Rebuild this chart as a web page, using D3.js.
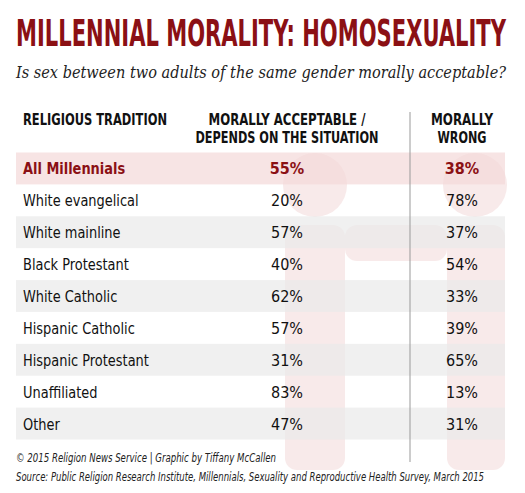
<!DOCTYPE html>
<html><head><meta charset="utf-8">
<script src="https://cdn.jsdelivr.net/npm/d3@7"></script>
<style>body{margin:0;background:#fff}</style>
</head><body><svg id="chart"></svg>
<script>
const traditions = ['All Millennials', 'White evangelical', 'White mainline', 'Black Protestant', 'White Catholic', 'Hispanic Catholic', 'Hispanic Protestant', 'Unaffiliated', 'Other'];
const acceptable = [55, 20, 57, 40, 62, 57, 31, 83, 47];
const wrong = [38, 78, 37, 54, 33, 39, 65, 13, 31];

const W = 525, H = 493;
const narrow = '"Liberation Sans Narrow", "DejaVu Sans Condensed", sans-serif';
const red = '#8b1014';
const svg = d3.select('#chart').attr('width', W).attr('height', H);

const y = d3.scaleBand().domain(traditions).range([152.5, 439.5]).paddingInner(0);
const col = { name: 23, acc: 287, wrong: 462 };

// pale figure silhouettes
const fig = svg.append('g').attr('fill', '#f8eaea');
[[315, 185], [475, 185]].forEach(([cx, cy]) => {
    fig.append('circle').attr('cx', cx).attr('cy', cy).attr('r', 32);
});
fig.append('rect').attr('x', 285).attr('y', 225).attr('width', 60).attr('height', 245).attr('rx', 12);
fig.append('rect').attr('x', 447).attr('y', 225).attr('width', 58).attr('height', 245).attr('rx', 12);
fig.append('rect').attr('x', 345).attr('y', 225).attr('width', 102).attr('height', 36).attr('rx', 12);

// row bands
svg.selectAll('.band').data(traditions).enter().append('rect')
    .attr('x', 16).attr('width', 489)
    .attr('y', d => y(d)).attr('height', y.bandwidth())
    .attr('fill', (d, i) => i === 0 ? '#f3d9d9' : (i % 2 === 0 ? '#e9e9e9' : 'none'))
    .attr('opacity', 0.7);

// divider
svg.append('line').attr('x1', 410).attr('x2', 410).attr('y1', 112).attr('y2', 462)
    .attr('stroke', '#999').attr('stroke-width', 1);

// title
svg.append('text').attr('x', 16).attr('y', 46).text('MILLENNIAL MORALITY: HOMOSEXUALITY')
    .attr('font-family', narrow).attr('font-weight', 'bold').attr('font-size', 38)
    .attr('fill', red).attr('textLength', 490).attr('lengthAdjust', 'spacingAndGlyphs');
svg.append('text').attr('x', 16).attr('y', 78)
    .text('Is sex between two adults of the same gender morally acceptable?')
    .attr('font-family', '"DejaVu Serif", "Liberation Serif", serif').attr('font-style', 'italic')
    .attr('font-size', 16).attr('fill', '#222').attr('textLength', 490).attr('lengthAdjust', 'spacingAndGlyphs');

// headers
const hdr = svg.append('g').attr('font-family', narrow).attr('font-weight', 'bold')
    .attr('font-size', 15).attr('fill', '#111').attr('lengthAdjust', 'spacingAndGlyphs');
const header = (x, yy, t, len, anchor) => hdr.append('text').attr('x', x).attr('y', yy)
    .attr('text-anchor', anchor || 'middle').attr('textLength', len).attr('lengthAdjust', 'spacingAndGlyphs').text(t);
header(col.name, 125, 'RELIGIOUS TRADITION', 144, 'start');
header(col.acc, 125, 'MORALLY ACCEPTABLE /', 157);
header(col.acc, 143, 'DEPENDS ON THE SITUATION', 183);
header(col.wrong, 125, 'MORALLY', 62);
header(col.wrong, 143, 'WRONG', 49);

// rows
const rows = svg.selectAll('.row').data(traditions).enter().append('g')
    .attr('transform', d => `translate(0,${y(d) + y.bandwidth() / 2 + 6})`)
    .attr('font-family', narrow).attr('font-size', 16)
    .attr('fill', (d, i) => i === 0 ? red : '#111')
    .attr('font-weight', (d, i) => i === 0 ? 'bold' : 'normal');
rows.append('text').attr('x', col.name)
    .attr('transform', `translate(${col.name},0) scale(0.9,1) translate(${-col.name},0)`)
    .text(d => d);
rows.append('text').attr('x', col.acc).attr('text-anchor', 'middle').text((d, i) => acceptable[i] + '%');
rows.append('text').attr('x', col.wrong).attr('text-anchor', 'middle').text((d, i) => wrong[i] + '%');

// footer
const ft = svg.append('g').attr('font-family', narrow).attr('font-style', 'italic')
    .attr('font-size', 12).attr('fill', '#222');
ft.append('text').attr('x', 16).attr('y', 462).text('© 2015 Religion News Service | Graphic by Tiffany McCallen')
    .attr('textLength', 260).attr('lengthAdjust', 'spacingAndGlyphs');
ft.append('text').attr('x', 16).attr('y', 481)
    .text('Source: Public Religion Research Institute, Millennials, Sexuality and Reproductive Health Survey, March 2015')
    .attr('textLength', 468).attr('lengthAdjust', 'spacingAndGlyphs');
</script></body></html>
